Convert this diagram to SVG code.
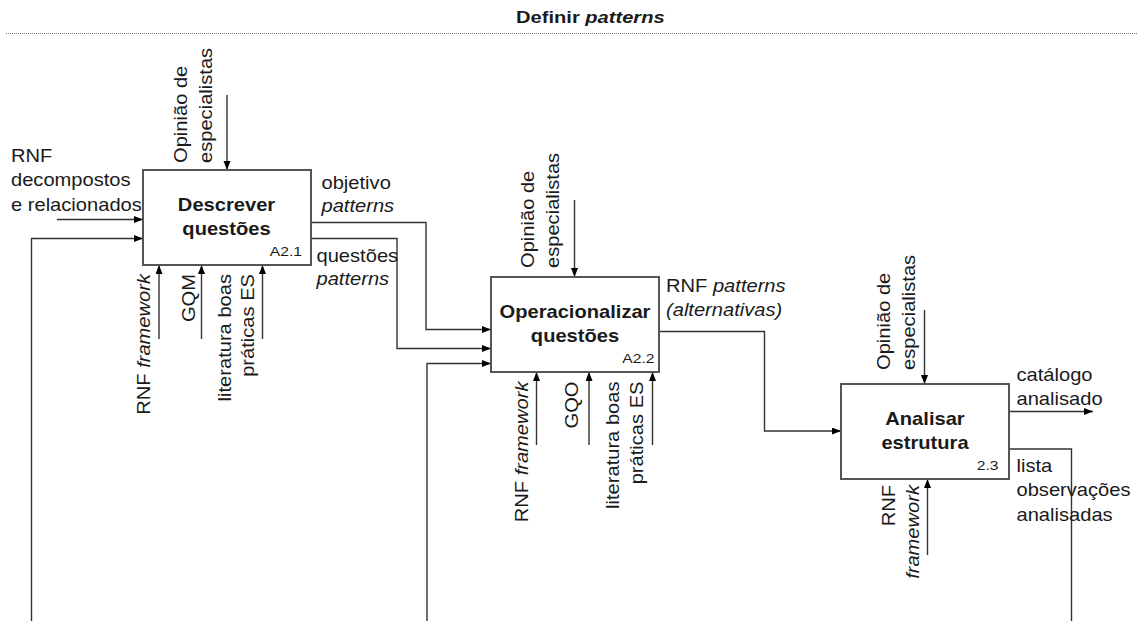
<svg xmlns="http://www.w3.org/2000/svg" width="1137" height="621" viewBox="0 0 1137 621">
<defs>
<marker id="ah" markerUnits="userSpaceOnUse" markerWidth="10" markerHeight="8" refX="9" refY="3.5" orient="auto">
<path d="M0,0 L9,3.5 L0,7 z" fill="#000"/>
</marker>
<style>
text{font-family:"Liberation Sans",Arial,sans-serif;fill:#1a1a1a;font-size:17.5px}
.b{font-weight:bold}
.n{font-size:13.5px}
.i{font-style:italic}
.box rect{fill:#fff;stroke:#555;stroke-width:2}
.conn path{fill:none;stroke:#333;stroke-width:1.4}
.conn path.a{marker-end:url(#ah)}
</style>
</defs>
<rect width="1137" height="621" fill="#fff"/>
<g id="title">
<text class="b" font-size="16.5" transform="translate(516 23.3) scale(1.22 1)" style="font-size:16.5px">Definir <tspan class="i">patterns</tspan></text>
<line x1="6" y1="33.5" x2="1137" y2="33.5" stroke="#777" stroke-width="1" stroke-dasharray="1 1"/>
</g>
<g id="connectors" class="conn">
<path class="a" d="M57 219.5 H143"/>
<path class="a" d="M31.5 621 V238.5 H143"/>
<path class="a" d="M227 95 V170"/>
<path class="a" d="M159 339 V265"/>
<path class="a" d="M201.5 339 V265"/>
<path class="a" d="M262.5 339 V265"/>
<path class="a" d="M311 222.5 H426 V329.5 H491"/>
<path class="a" d="M311 238.5 H397 V348.5 H491"/>
<path class="a" d="M427 621 V363.5 H491"/>
<path class="a" d="M574.5 200 V277"/>
<path class="a" d="M536.5 445 V372"/>
<path class="a" d="M589 445 V372"/>
<path class="a" d="M652.5 445 V372"/>
<path class="a" d="M659 331.5 H764.5 V431 H841"/>
<path class="a" d="M924.5 310 V384"/>
<path class="a" d="M927.5 555 V479"/>
<path class="a" d="M1009 411.5 H1093"/>
<path d="M1009 449 H1071.5 V621"/>
</g>
<g id="node-a21" class="box">
<rect x="143" y="170" width="168" height="95"/>
<text class="b" text-anchor="middle" transform="translate(226.5 210.5) scale(1.15 1)">Descrever<tspan x="0" dy="24.5">questões</tspan></text>
<text class="n" text-anchor="end" transform="translate(302 255.5) scale(1.16 1)">A2.1</text>
</g>
<g id="node-a22" class="box">
<rect x="491" y="277" width="168" height="95"/>
<text class="b" text-anchor="middle" transform="translate(575 318) scale(1.15 1)">Operacionalizar<tspan x="0" dy="24.5">questões</tspan></text>
<text class="n" text-anchor="end" transform="translate(654.5 362.7) scale(1.16 1)">A2.2</text>
</g>
<g id="node-23" class="box">
<rect x="841" y="384" width="168" height="95"/>
<text class="b" text-anchor="middle" transform="translate(925 425) scale(1.15 1)">Analisar<tspan x="0" dy="24.5">estrutura</tspan></text>
<text class="n" text-anchor="end" transform="translate(998.5 470) scale(1.16 1)">2.3</text>
</g>
<g id="labels">
<text transform="translate(11 162) scale(1.15 1)">RNF<tspan x="0" dy="24.5">decompostos</tspan><tspan x="0" dy="24.5">e relacionados</tspan></text>
<text transform="translate(187.3 163) rotate(-90) scale(1.15 1)">Opinião de<tspan x="0" dy="25">especialistas</tspan></text>
<text text-anchor="end" transform="translate(149.5 274) rotate(-90) scale(1.15 1)">RNF <tspan class="i">framework</tspan></text>
<text text-anchor="end" transform="translate(194.5 274) rotate(-90) scale(1.15 1)">GQM</text>
<text text-anchor="end" transform="translate(230.5 274) rotate(-90) scale(1.15 1)">literatura boas<tspan x="0" dy="24">práticas ES</tspan></text>
<text transform="translate(321.5 189) scale(1.15 1)">objetivo<tspan x="0" dy="23.5" class="i">patterns</tspan></text>
<text transform="translate(316.5 261.5) scale(1.15 1)">questões<tspan x="0" dy="24" class="i">patterns</tspan></text>
<text transform="translate(533.5 268) rotate(-90) scale(1.15 1)">Opinião de<tspan x="0" dy="26">especialistas</tspan></text>
<text text-anchor="end" transform="translate(528 381.5) rotate(-90) scale(1.15 1)">RNF <tspan class="i">framework</tspan></text>
<text text-anchor="end" transform="translate(578 381.5) rotate(-90) scale(1.15 1)">GQO</text>
<text text-anchor="end" transform="translate(619 381.5) rotate(-90) scale(1.15 1)">literatura boas<tspan x="0" dy="24.5">práticas ES</tspan></text>
<text transform="translate(666 291.7) scale(1.15 1)">RNF <tspan class="i">patterns</tspan><tspan x="0" dy="24" class="i">(alternativas)</tspan></text>
<text transform="translate(890 370) rotate(-90) scale(1.15 1)">Opinião de<tspan x="0" dy="25">especialistas</tspan></text>
<text text-anchor="end" transform="translate(894.5 485) rotate(-90) scale(1.15 1)">RNF<tspan x="0" dy="25" class="i">framework</tspan></text>
<text transform="translate(1016.5 380.5) scale(1.15 1)">catálogo<tspan x="0" dy="24.5">analisado</tspan></text>
<text transform="translate(1016.5 471.7) scale(1.15 1)">lista<tspan x="0" dy="24.5">observações</tspan><tspan x="0" dy="24.5">analisadas</tspan></text>
</g>
</svg>
